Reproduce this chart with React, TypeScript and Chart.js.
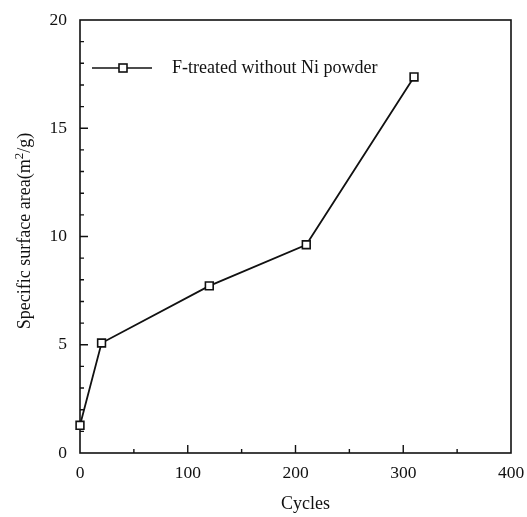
import React, { useEffect, useRef } from "react";
import { Chart, registerables } from "chart.js";

Chart.register(...registerables);

const seriesLabel = "F-treated without Ni powder";
const xTitle = "Cycles";
const yTitleParts = ["Specific surface area(m", "2", "/g)"];
const cycles = [0, 20, 120, 210, 310];
const surfaceArea = [1.28, 5.08, 7.72, 9.62, 17.37];
const xTicks = [0, 100, 200, 300, 400];
const xMinorTicks = [50, 150, 250, 350];
const yTicks = [0, 5, 10, 15, 20];
const yMinorTicks = [1, 2, 3, 4, 6, 7, 8, 9, 11, 12, 13, 14, 16, 17, 18, 19];

const FONT = "'Liberation Serif', 'DejaVu Serif', serif";

const framePlugin = {
  id: "frame",
  beforeDatasetsDraw(chart: any) {
    const { ctx, chartArea: a, scales } = chart;
    const xs = scales.x;
    const ys = scales.y;
    ctx.save();
    ctx.strokeStyle = "#111";
    ctx.lineWidth = 1.6;
    ctx.strokeRect(a.left, a.top, a.right - a.left, a.bottom - a.top);
    ctx.lineWidth = 1.4;
    ctx.beginPath();
    xTicks.forEach((v) => {
      if (v === 0 || v === 400) return;
      const px = xs.getPixelForValue(v);
      ctx.moveTo(px, a.bottom);
      ctx.lineTo(px, a.bottom - 8);
    });
    xMinorTicks.forEach((v) => {
      const px = xs.getPixelForValue(v);
      ctx.moveTo(px, a.bottom);
      ctx.lineTo(px, a.bottom - 4);
    });
    yTicks.forEach((v) => {
      if (v === 0 || v === 20) return;
      const py = ys.getPixelForValue(v);
      ctx.moveTo(a.left, py);
      ctx.lineTo(a.left + 8, py);
    });
    yMinorTicks.forEach((v) => {
      const py = ys.getPixelForValue(v);
      ctx.moveTo(a.left, py);
      ctx.lineTo(a.left + 4, py);
    });
    ctx.stroke();

    // legend
    const ly = 68;
    ctx.lineWidth = 1.5;
    ctx.beginPath();
    ctx.moveTo(a.left + 12, ly);
    ctx.lineTo(a.left + 72, ly);
    ctx.stroke();
    ctx.fillStyle = "#fff";
    ctx.lineWidth = 1.6;
    ctx.fillRect(a.left + 39, ly - 4, 8, 8);
    ctx.strokeRect(a.left + 39, ly - 4, 8, 8);
    ctx.fillStyle = "#111";
    ctx.font = `18px ${FONT}`;
    ctx.textBaseline = "middle";
    ctx.textAlign = "left";
    ctx.fillText(chart.data.datasets[0].label, a.left + 92, ly);

    // x title
    ctx.textAlign = "center";
    ctx.textBaseline = "middle";
    ctx.fillText(xTitle, (a.left + a.right) / 2 + 10, 504);

    // y title (rotated, with superscript)
    ctx.translate(24, 231);
    ctx.rotate(-Math.PI / 2);
    const mainFont = `18px ${FONT}`;
    const supFont = `13px ${FONT}`;
    ctx.font = mainFont;
    const w0 = ctx.measureText(yTitleParts[0]).width;
    const w2 = ctx.measureText(yTitleParts[2]).width;
    ctx.font = supFont;
    const w1 = ctx.measureText(yTitleParts[1]).width;
    let x = -(w0 + w1 + w2) / 2;
    ctx.textAlign = "left";
    ctx.textBaseline = "alphabetic";
    ctx.font = mainFont;
    ctx.fillText(yTitleParts[0], x, 6);
    x += w0;
    ctx.font = supFont;
    ctx.fillText(yTitleParts[1], x, -1);
    x += w1;
    ctx.font = mainFont;
    ctx.fillText(yTitleParts[2], x, 6);
    ctx.restore();
  },
};

const zeroPadding = (s: any) => {
  s.paddingLeft = 0;
  s.paddingRight = 0;
  s.paddingTop = 0;
  s.paddingBottom = 0;
};

export default function App() {
  const ref = useRef<HTMLCanvasElement>(null);
  useEffect(() => {
    if (!ref.current) return;
    const chart = new Chart(ref.current, {
      type: "line",
      data: {
        datasets: [
          {
            label: seriesLabel,
            data: cycles.map((c, i) => ({ x: c, y: surfaceArea[i] })),
            borderColor: "#111",
            borderWidth: 1.8,
            pointStyle: "rect",
            pointRadius: 5.5,
            pointBackgroundColor: "#fff",
            pointBorderColor: "#111",
            pointBorderWidth: 1.6,
            tension: 0,
            clip: false,
          } as any,
        ],
      },
      options: {
        responsive: false,
        animation: false,
        layout: { padding: { top: 20, right: 16, left: 0, bottom: 0 } },
        plugins: { legend: { display: false }, tooltip: { enabled: false } },
        scales: {
          x: {
            type: "linear",
            min: 0,
            max: 400,
            afterFit: (s: any) => {
              s.height = 64;
              zeroPadding(s);
            },
            afterBuildTicks: (s: any) => {
              s.ticks = xTicks.map((v) => ({ value: v }));
            },
            grid: { display: false, drawTicks: false },
            border: { display: false },
            ticks: {
              color: "#111",
              padding: 10,
              maxRotation: 0,
              font: { family: FONT, size: 17.5 },
            },
            title: { display: false },
          },
          y: {
            type: "linear",
            min: 0,
            max: 20,
            afterFit: (s: any) => {
              s.width = 80;
              zeroPadding(s);
            },
            afterBuildTicks: (s: any) => {
              s.ticks = yTicks.map((v) => ({ value: v }));
            },
            grid: { display: false, drawTicks: false },
            border: { display: false },
            ticks: {
              color: "#111",
              padding: 13,
              font: { family: FONT, size: 17.5 },
            },
            title: { display: false },
          },
        },
      },
      plugins: [framePlugin],
    });
    return () => chart.destroy();
  }, []);
  return (
    <div style={{ position: "fixed", left: 0, top: 0, width: 527, height: 517, background: "#fff" }}>
      <canvas ref={ref} width={527} height={517} />
    </div>
  );
}
